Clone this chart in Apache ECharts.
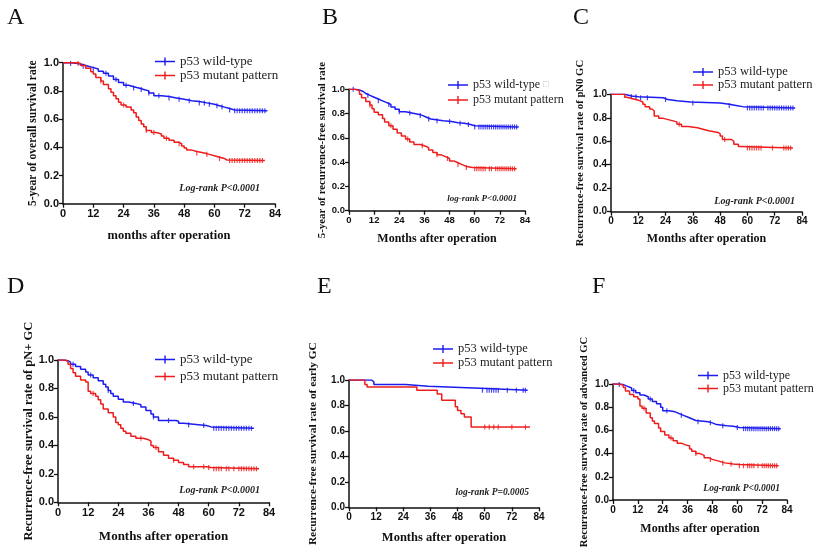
<!DOCTYPE html>
<html><head><meta charset="utf-8">
<script src="https://cdn.jsdelivr.net/npm/echarts@6/dist/echarts.min.js"></script>
<style>html,body{margin:0;padding:0;background:#fff}#c{width:817px;height:555px}</style>
</head><body><div id="c"></div>
<script>
// ---- shared labels ----
const WT = 'p53 wild-type';
const MUT = 'p53 mutant pattern';
const xTicks = [0, 12, 24, 36, 48, 60, 72, 84];
const yTicks = [0.0, 0.2, 0.4, 0.6, 0.8, 1.0];

// ---- Panel A: [month, survival] after each step ----
const aWt = [[0,1],[3,0.995],[6,0.985],[8,0.975],[10,0.965],[12,0.955],[14,0.94],[16,0.925],[18,0.905],[20,0.88],[22,0.86],[24,0.84],[26,0.83],[28,0.82],[30,0.81],[32,0.8],[34,0.785],[36,0.765],[39,0.76],[42,0.75],[45,0.74],[48,0.73],[51,0.725],[54,0.715],[57,0.705],[60,0.695],[62,0.685],[64,0.675],[66,0.665],[68,0.659],[81,0.659]];
const aMut = [[0,1],[5,0.995],[7,0.98],[9,0.96],[11,0.935],[12,0.92],[13,0.895],[15,0.87],[16,0.845],[18,0.815],[19,0.79],[20,0.765],[21,0.745],[22,0.72],[23,0.7],[25,0.685],[27,0.665],[28,0.645],[29,0.615],[30,0.59],[31,0.565],[32,0.545],[33,0.52],[35,0.505],[37,0.495],[39,0.48],[40,0.465],[42,0.45],[44,0.435],[46,0.425],[47,0.41],[48,0.395],[49,0.38],[51,0.37],[53,0.36],[56,0.35],[58,0.34],[60,0.33],[62,0.32],[64,0.31],[65,0.306],[80,0.306]];
const aWtCens = [3,8,12,17,21,25,28,31,34,38,42,46,50,54,56,58,61,63,66,68,69,70,71,72,73,74,75,76,77,78,79,80];
const aMutCens = [6,15,24,33,36,41,46,53,57,62,66,67,68,69,70,71,72,73,74,75,76,77,78,79];

// ---- Panel B ----
const bWt = [[0,1],[3,0.995],[5,0.98],[7,0.965],[8,0.95],[10,0.935],[12,0.92],[14,0.905],[16,0.89],[18,0.875],[20,0.855],[22,0.835],[24,0.815],[27,0.805],[30,0.795],[33,0.785],[35,0.77],[37,0.755],[39,0.74],[45,0.735],[49,0.725],[52,0.72],[55,0.71],[58,0.7],[60,0.69],[81,0.69]];
const bMut = [[0,1],[3,0.99],[5,0.96],[6,0.93],[8,0.9],[10,0.87],[11,0.84],[12,0.81],[14,0.79],[16,0.76],[17,0.73],[19,0.7],[21,0.67],[23,0.64],[25,0.615],[27,0.59],[29,0.565],[31,0.545],[34,0.535],[36,0.52],[38,0.5],[40,0.48],[42,0.46],[44,0.445],[46,0.43],[48,0.41],[50,0.395],[52,0.38],[54,0.365],[56,0.355],[59,0.345],[80,0.345]];
const bWtCens = [2,9,14,19,24,29,34,38,42,48,53,57,60,62,63,64,65,66,67,68,69,70,71,72,73,74,75,76,77,78,79,80];
const bMutCens = [10,20,28,35,42,47,52,56,60,61,62,63,64,65,67,68,70,71,72,73,74,75,76,77,78,79];

// ---- Panel C ----
const cWt = [[0,1],[6,0.985],[9,0.98],[12,0.97],[23,0.955],[25,0.945],[29,0.935],[35,0.925],[48,0.915],[52,0.905],[55,0.895],[58,0.884],[81,0.884]];
const cMut = [[0,1],[6,0.975],[7,0.96],[10,0.95],[12,0.935],[14,0.915],[15,0.895],[17,0.875],[18,0.86],[19,0.815],[21,0.795],[23,0.78],[26,0.765],[29,0.745],[31,0.725],[34,0.715],[38,0.705],[40,0.69],[43,0.675],[47,0.665],[48,0.645],[49,0.615],[53,0.6],[54,0.575],[56,0.555],[57,0.543],[80,0.543]];
const cWtCens = [9,11,13,16,24,36,52,60,61,62,63,64,65,66,67,69,70,71,72,73,74,75,76,77,78,79,80];
const cMutCens = [30,50,60,61,62,63,64,65,66,71,76,77,78,79];

// ---- Panel D ----
const dWt = [[0,1],[2,0.995],[4,0.985],[5,0.97],[7,0.955],[9,0.935],[11,0.915],[12,0.895],[14,0.875],[16,0.855],[18,0.83],[19,0.81],[20,0.785],[21,0.765],[22,0.745],[24,0.725],[26,0.705],[28,0.695],[31,0.685],[33,0.67],[35,0.645],[37,0.62],[38,0.6],[40,0.575],[47,0.57],[48,0.555],[50,0.545],[56,0.54],[59,0.53],[61,0.52],[78,0.52]];
const dMut = [[0,1],[3,0.99],[4,0.97],[5,0.94],[6,0.91],[7,0.885],[9,0.86],[11,0.845],[12,0.78],[13,0.765],[15,0.745],[16,0.72],[17,0.69],[18,0.655],[20,0.63],[22,0.6],[23,0.56],[24,0.545],[25,0.52],[26,0.5],[27,0.485],[29,0.465],[31,0.45],[34,0.44],[36,0.43],[37,0.4],[38,0.385],[40,0.355],[42,0.33],[44,0.31],[46,0.295],[48,0.28],[50,0.265],[52,0.25],[59,0.245],[61,0.235],[80,0.235]];
const dWtCens = [6,13,20,30,38,44,52,58,62,63,64,65,66,67,68,69,70,71,72,73,74,75,76,77];
const dMutCens = [14,33,39,46,54,58,60,62,63,64,65,67,68,70,72,73,74,75,76,77,78,79];

// ---- Panel E ----
const eWt = [[0,1],[10,0.985],[11,0.965],[25,0.95],[35,0.935],[58,0.92],[79,0.92]];
const eMut = [[0,1],[7,0.965],[8,0.945],[30,0.92],[39,0.89],[41,0.84],[47,0.79],[48,0.76],[49.5,0.735],[51,0.71],[54,0.63],[80,0.63]];
const eWtCens = [59,61,62,63,64,65,66,70,74,77,78];
const eMutCens = [60,62,64,66,72,78];

// ---- Panel F ----
const fWt = [[0,1],[3,0.995],[5,0.98],[7,0.965],[9,0.945],[11,0.925],[13,0.905],[15,0.89],[17,0.87],[19,0.85],[21,0.83],[23,0.8],[24,0.77],[27,0.76],[30,0.745],[32,0.73],[34,0.715],[36,0.7],[38,0.685],[40,0.675],[46,0.665],[48,0.65],[50,0.64],[55,0.635],[58,0.625],[61,0.615],[81,0.615]];
const fMut = [[0,1],[3,0.99],[5,0.97],[6,0.94],[8,0.91],[10,0.89],[12,0.87],[13,0.81],[14,0.79],[16,0.75],[18,0.71],[19,0.68],[20,0.66],[22,0.62],[23,0.59],[25,0.56],[27,0.535],[29,0.51],[31,0.49],[33,0.475],[35,0.465],[37,0.44],[38,0.42],[40,0.4],[42,0.385],[44,0.365],[46,0.35],[48,0.335],[51,0.32],[54,0.31],[58,0.305],[61,0.295],[80,0.295]];
const fWtCens = [3,10,18,26,33,41,47,53,60,63,64,65,66,67,68,69,70,71,72,73,74,75,76,77,78,79,80];
const fMutCens = [15,28,40,47,53,57,61,63,65,66,67,68,70,72,73,74,75,76,77,78,79];

// ---- texts ----
const letters = ['A','B','C','D','E','F'];
const yNames = ['5-year of overall survival rate','5-year of recurrence-free survival rate','Recurrence-free survival rate of pN0 GC','Recurrence-free survival rate of pN+ GC','Recurrence-free survival rate of early GC','Recurrence-free survival rate of advanced GC'];
const xNames = ['months after operation','Months after operation','Months after operation','Months after operation','Months after operation','Months after operation'];
const pTexts = ['Log-rank P<0.0001','log-rank P<0.0001','Log-rank P<0.0001','Log-rank P<0.0001','log-rank P=0.0005','Log-rank P<0.0001'];

// ---- layout (styles/positions only) ----
const L = [
  {grid:{left:63,top:62.7,width:212,height:141},tick:11,yFs:11.5,yGap:24,xFs:12.5,xGap:26,leg:{left:155,top:55,gap:1,fs:13},lx:7,ly:19,px:260,py:188,pfs:10},
  {grid:{left:349,top:89.3,width:176,height:121.4},tick:9.5,yFs:10.8,yGap:21,xFs:12,xGap:22,leg:{left:448,top:79,gap:3,fs:12},lx:322,ly:19,px:517,py:199,pfs:9},
  {grid:{left:611,top:94.3,width:191,height:117.4},tick:10,yFs:10.7,yGap:25,xFs:12,xGap:21,leg:{left:693,top:65.5,gap:0,fs:12.5},lx:573,ly:19,px:795,py:201,pfs:10},
  {grid:{left:58,top:360,width:211,height:142.3},tick:11,yFs:12.5,yGap:23,xFs:13,xGap:28,leg:{left:155,top:353,gap:4,fs:13},lx:7,ly:288,px:260,py:490,pfs:10},
  {grid:{left:349,top:380,width:190,height:127.3},tick:10,yFs:11.4,yGap:30,xFs:12.5,xGap:24,leg:{left:433,top:342.5,gap:1,fs:12.5},lx:317,ly:288,px:529,py:493,pfs:9.5},
  {grid:{left:613,top:384,width:174,height:116},tick:10,yFs:10.7,yGap:23,xFs:12,xGap:23,leg:{left:698,top:369.5,gap:1,fs:12},lx:592,ly:288,px:780,py:489,pfs:9.5}
];
const curves = [[aWt,aMut,aWtCens,aMutCens],[bWt,bMut,bWtCens,bMutCens],[cWt,cMut,cWtCens,cMutCens],[dWt,dMut,dWtCens,dMutCens],[eWt,eMut,eWtCens,eMutCens],[fWt,fMut,fWtCens,fMutCens]];

const BLUE = '#1c1cf0', RED = '#ef1c1c';
const SERIF = '"Liberation Serif","Times New Roman",serif';
const SANS = '"Liberation Sans",Arial,sans-serif';
const ICON = 'path://M0,3.3h20v1.4h-20z M9.3,0h1.4v8h-1.4z';

function survAt(curve, t) {
  let s = curve[0][1];
  for (const p of curve) { if (p[0] <= t) s = p[1]; else break; }
  return s;
}

const grid = [], xAxis = [], yAxis = [], series = [], legend = [], graphic = [];
L.forEach((l, i) => {
  grid.push(Object.assign({containLabel:false}, l.grid));
  xAxis.push({
    type:'value', gridIndex:i, min:xTicks[0], max:xTicks[xTicks.length-1], interval:12,
    name:xNames[i], nameLocation:'middle', nameGap:l.xGap,
    nameTextStyle:{fontFamily:SERIF, fontWeight:'bold', fontSize:l.xFs, color:'#111'},
    axisLine:{onZero:false, lineStyle:{color:'#111', width:1.5}},
    axisTick:{show:true, length:4, lineStyle:{color:'#111', width:1.3}},
    axisLabel:{fontFamily:SANS, fontWeight:'bold', fontSize:l.tick, color:'#111', margin:5},
    splitLine:{show:false}
  });
  yAxis.push({
    type:'value', gridIndex:i, min:yTicks[0], max:yTicks[yTicks.length-1], interval:0.2,
    name:yNames[i], nameLocation:'middle', nameGap:l.yGap,
    nameTextStyle:{fontFamily:SERIF, fontWeight:'bold', fontSize:l.yFs, color:'#111'},
    axisLine:{show:true, lineStyle:{color:'#111', width:1.5}},
    axisTick:{show:true, length:4, lineStyle:{color:'#111', width:1.3}},
    axisLabel:{fontFamily:SANS, fontWeight:'bold', fontSize:l.tick, color:'#111', margin:4, formatter:v=>v.toFixed(1)},
    splitLine:{show:false}
  });
  const [wt, mut, wtC, mutC] = curves[i];
  [[WT, wt, wtC, BLUE], [MUT, mut, mutC, RED]].forEach(([name, cv, cens, col]) => {
    series.push({type:'line', name, xAxisIndex:i, yAxisIndex:i, data:cv, step:'end',
      showSymbol:false, symbol:'none', color:col, lineStyle:{color:col, width:1.5}, silent:true, animation:false});
    series.push({type:'scatter', name, xAxisIndex:i, yAxisIndex:i,
      data:cens.map(t => [t, survAt(cv, t)]), symbol:'rect', symbolSize:[1.2, 5],
      itemStyle:{color:col}, silent:true, animation:false});
  });
  legend.push({
    orient:'vertical', left:l.leg.left, top:l.leg.top, itemGap:l.leg.gap, itemWidth:20, itemHeight:8,
    icon:ICON, selectedMode:false, padding:0,
    data:[{name:WT, icon:ICON}, {name:MUT, icon:ICON}],
    formatter: i === 1 ? (n => n === WT ? n + ' {g|\u25a1}' : n) : (n => n),
    textStyle:{fontFamily:SERIF, fontSize:l.leg.fs, color:'#222', rich:{g:{color:'#bbb', fontSize:l.leg.fs-3}}}
  });
  graphic.push({type:'text', left:l.lx, top:l.ly - 13,
    style:{text:letters[i], font:'24px ' + SERIF, fill:'#111'}});
  graphic.push({type:'text', x:l.px, y:l.py,
    style:{text:pTexts[i], font:'italic bold ' + l.pfs + 'px ' + SERIF, fill:'#222', textAlign:'right', textVerticalAlign:'middle'}});
});

const chart = echarts.init(document.getElementById('c'), null, {renderer:'canvas'});
chart.setOption({backgroundColor:'#fff', animation:false, grid, xAxis, yAxis, series, legend, graphic});
</script>
</body></html>
